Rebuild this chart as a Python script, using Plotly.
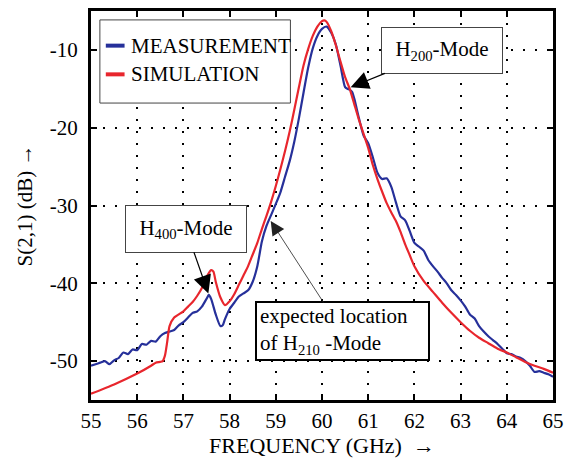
import plotly.graph_objects as go

# Transmission S(2,1) of the resonator, 55-65 GHz
freq_meas = [55.0, 55.1, 55.2, 55.3, 55.4, 55.5, 55.6, 55.7, 55.8, 55.9,
             56.0, 56.1, 56.2, 56.3, 56.4, 56.5, 56.6, 56.7, 56.8, 56.9,
             57.0, 57.1, 57.2, 57.3, 57.4, 57.5, 57.55, 57.6, 57.7, 57.8,
             57.85, 57.9, 58.0, 58.1, 58.2, 58.3, 58.4, 58.5, 58.6, 58.7,
             58.8, 58.9, 59.0, 59.1, 59.2, 59.3, 59.4, 59.5, 59.6, 59.7,
             59.8, 59.9, 60.0, 60.1, 60.2, 60.3, 60.4, 60.5, 60.55, 60.6,
             60.65, 60.7, 60.8, 60.9, 61.0, 61.1, 61.2, 61.3, 61.4, 61.5,
             61.6, 61.7, 61.8, 61.9, 62.0, 62.1, 62.2, 62.3, 62.4, 62.5,
             62.6, 62.7, 62.8, 62.9, 63.0, 63.1, 63.2, 63.3, 63.4, 63.5,
             63.6, 63.7, 63.8, 63.9, 64.0, 64.1, 64.2, 64.3, 64.4, 64.5,
             64.6, 64.7, 64.8, 64.9, 65.0]
s21_meas = [-50.6, -50.4, -50.2, -50.0, -50.4, -49.9, -49.6, -48.9, -49.1, -48.5,
            -48.6, -47.8, -47.9, -47.4, -47.5, -46.8, -46.4, -46.2, -46.0, -45.4,
            -45.0, -44.4, -43.8, -43.6, -43.0, -42.0, -41.5, -42.0, -44.0, -45.5,
            -45.4, -44.6, -43.3, -42.5, -41.7, -41.3, -40.9, -39.8, -37.8, -34.6,
            -32.6, -31.2, -29.8, -28.3, -26.3, -24.3, -21.8, -18.8, -15.5, -12.3,
            -9.8, -8.2, -7.3, -7.0, -7.8, -9.3, -12.0, -14.8, -15.0, -15.1,
            -15.4, -16.3, -18.8, -21.0, -22.0, -23.8, -25.8, -26.6, -26.5, -27.6,
            -29.6, -31.4, -31.9, -33.3, -34.8, -35.3, -35.8, -37.0, -37.8, -38.5,
            -39.3, -40.0, -40.9, -41.5, -42.2, -43.0, -44.0, -44.5, -45.5, -46.2,
            -46.8, -47.3, -47.8, -48.4, -49.0, -49.1, -49.4, -49.6, -50.0, -50.6,
            -51.4, -51.3, -51.5, -51.7, -52.0]

freq_sim = [55.0, 55.5, 56.0, 56.3, 56.4, 56.5, 56.55, 56.6, 56.65, 56.7,
            56.8, 56.9, 57.0, 57.1, 57.2, 57.3, 57.4, 57.5, 57.6, 57.65,
            57.7, 57.8, 57.9, 58.0, 58.1, 58.2, 58.3, 58.4, 58.5, 58.6,
            58.7, 58.8, 58.9, 59.0, 59.1, 59.2, 59.3, 59.4, 59.5, 59.6,
            59.7, 59.8, 59.9, 60.0, 60.05, 60.1, 60.2, 60.3, 60.4, 60.5,
            60.6, 60.7, 60.8, 60.9, 61.0, 61.1, 61.2, 61.3, 61.4, 61.5,
            61.6, 61.7, 61.8, 61.9, 62.0, 62.2, 62.4, 62.6, 62.8, 63.0,
            63.2, 63.4, 63.6, 63.8, 64.0, 64.2, 64.4, 64.6, 64.8, 65.0]
s21_sim = [-54.2, -53.0, -51.6, -50.6, -50.2, -50.1, -50.0, -49.3, -47.5, -45.5,
           -44.4, -44.0, -43.6, -43.0, -42.4, -41.6, -40.6, -39.2, -38.3, -38.5,
           -39.8, -41.8, -42.8, -42.3, -41.4, -40.2, -39.0, -37.8, -36.3, -34.8,
           -33.0, -31.3, -29.5, -27.5, -25.3, -23.0, -20.5, -17.7, -14.8, -12.0,
           -9.9, -8.2, -7.0, -6.3, -6.2, -6.4, -7.6, -9.4, -11.5, -13.5,
           -15.0, -17.0, -19.0, -20.8, -22.6, -24.8, -26.6, -28.2, -29.7, -30.9,
           -32.0, -33.4, -35.0, -36.4, -37.8, -39.7, -41.1, -42.5, -43.8, -45.0,
           -46.1, -47.0, -47.7, -48.4, -48.9, -49.5, -50.1, -50.6, -51.0, -51.5]

series_names = ["MEASUREMENT", "SIMULATION"]
x_ticks = [55, 56, 57, 58, 59, 60, 61, 62, 63, 64, 65]
y_ticks = [-50, -40, -30, -20, -10]
y_tick_text = ["-50", "-40", "-30", "-20", "-10"]

BLUE = "#26309a"
RED = "#e8262d"
FONT = "Liberation Serif"

fig = go.Figure()
fig.add_trace(go.Scatter(x=freq_meas, y=s21_meas, mode="lines", name=series_names[0],
                         line=dict(color=BLUE, width=2.2, shape="spline", smoothing=0.6)))
fig.add_trace(go.Scatter(x=freq_sim, y=s21_sim, mode="lines", name=series_names[1],
                         line=dict(color=RED, width=2.2, shape="spline", smoothing=0.6)))

axis_common = dict(
    showline=True, linewidth=3, linecolor="black", mirror="ticks",
    ticks="inside", ticklen=6, tickwidth=2, tickcolor="black",
    showgrid=True, gridcolor="black", gridwidth=1.5, griddash="2px,10px",
    zeroline=False, tickfont=dict(family=FONT, size=21, color="black"),
)

fig.update_xaxes(range=[55, 65], tickvals=x_ticks,
                 title=dict(text="FREQUENCY (GHz) \u00a0\u2192", font=dict(family=FONT, size=22, color="black"),
                            standoff=6),
                 **axis_common)
fig.update_yaxes(range=[-55, -5], tickvals=y_ticks, ticktext=y_tick_text,
                 ticklabelstandoff=6,
                 title=dict(text="S(2,1) (dB) \u2192", font=dict(family=FONT, size=21, color="black"),
                            standoff=12),
                 **axis_common)

# Legend drawn as a framed box in the upper-left corner
fig.add_shape(type="rect", xref="paper", yref="paper",
              x0=(100 - 91) / 468, x1=(293 - 91) / 468,
              y0=(401 - 101) / 393, y1=(401 - 17) / 393,
              line=dict(color="#444444", width=1), fillcolor="white", layer="above")
for i, (name, col) in enumerate(zip(series_names, [BLUE, RED])):
    ypx = 43 + i * 29
    yp = (401 - ypx) / 393
    fig.add_shape(type="line", xref="paper", yref="paper",
                  x0=(106 - 91) / 468, x1=(125 - 91) / 468, y0=yp, y1=yp,
                  line=dict(color=col, width=4), layer="above")
    fig.add_annotation(xref="paper", yref="paper", x=(129 - 91) / 468, y=yp,
                       xanchor="left", yanchor="middle", showarrow=False, text=name,
                       font=dict(family=FONT, size=21, color="black"))

label_font = dict(family=FONT, size=21, color="black")

# Mode labels: boxed text placed at (ax, ay), arrow pointing to (x, y)
fig.add_annotation(x=60.62, y=-14.8, ax=62.59, ay=-10.06,
                   xref="x", yref="y", axref="x", ayref="y",
                   text="H<sub>200</sub>-Mode", font=label_font,
                   bgcolor="white", bordercolor="#444444", borderwidth=1, borderpad=3,
                   width=114, height=39,
                   showarrow=True, arrowhead=2, arrowsize=3, arrowwidth=1.2,
                   arrowcolor="black")
fig.add_annotation(x=57.54, y=-41.3, ax=57.05, ay=-32.98,
                   xref="x", yref="y", axref="x", ayref="y",
                   text="H<sub>400</sub>-Mode", font=label_font,
                   bgcolor="white", bordercolor="#444444", borderwidth=1, borderpad=3,
                   width=114, height=40,
                   showarrow=True, arrowhead=2, arrowsize=3, arrowwidth=1.2,
                   arrowcolor="black")
fig.add_annotation(x=58.89, y=-32.0, ax=60.44, ay=-46.19,
                   xref="x", yref="y", axref="x", ayref="y", align="left",
                   text="expected location<br>of H<sub>210</sub> -Mode", font=label_font,
                   bgcolor="white", bordercolor="black", borderwidth=2, borderpad=3,
                   width=165, height=50,
                   showarrow=True, arrowhead=2, arrowsize=3.5, arrowwidth=0.8,
                   arrowcolor="#222222")

fig.update_layout(
    width=572, height=463,
    margin=dict(l=91, r=13, t=8, b=62),
    paper_bgcolor="white", plot_bgcolor="white",
    showlegend=False,
    font=dict(family=FONT, color="black"),
)

fig.write_html("out.html")
